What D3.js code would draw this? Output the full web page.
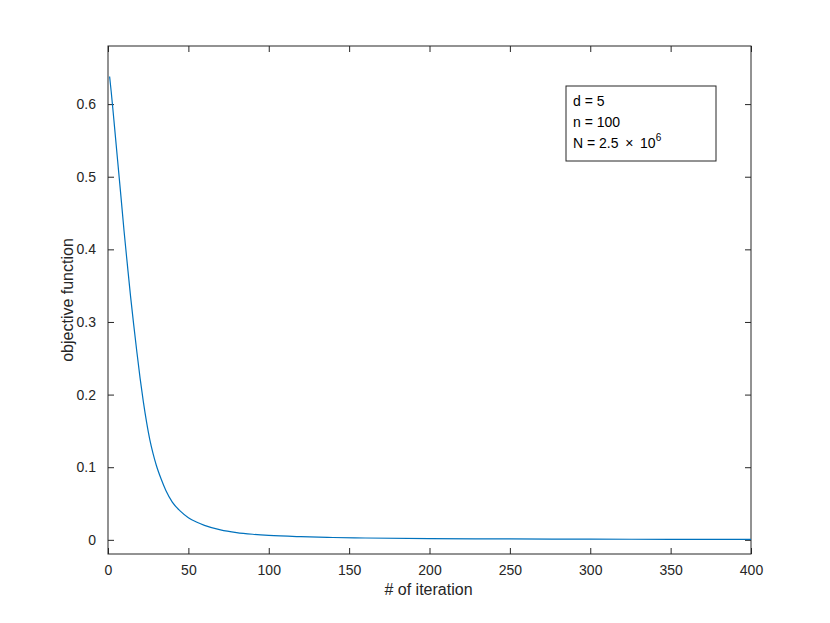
<!DOCTYPE html>
<html>
<head>
<meta charset="utf-8">
<title>objective function</title>
<script src="https://cdn.jsdelivr.net/npm/d3@7"></script>
<style>
  body { margin: 0; background: #fff; }
  svg { font-family: "Liberation Sans", Arial, sans-serif; }
  .tick text { font-size: 14px; fill: #262626; }
</style>
</head>
<body>
<script>
// iterations and objective values
const iters = [1, 2, 3, 4, 6, 8, 10, 12, 14, 16, 18, 20, 22, 24, 26, 28, 30, 33, 36, 40,
  45, 50, 55, 60, 70, 80, 90, 100, 120, 140, 160, 200, 250, 300, 350, 400];
const objective = [0.638, 0.617, 0.594, 0.570, 0.522, 0.474, 0.425, 0.380, 0.336, 0.296, 0.258,
  0.222, 0.190, 0.162, 0.138, 0.119, 0.103, 0.084, 0.068, 0.052,
  0.0395, 0.0305, 0.0245, 0.0200, 0.0137, 0.0100, 0.0077, 0.0061, 0.0043, 0.0032, 0.0025,
  0.0017, 0.0012, 0.0009, 0.0007, 0.0006];
const xTicks = [0, 50, 100, 150, 200, 250, 300, 350, 400];
const yTicks = [0, 0.1, 0.2, 0.3, 0.4, 0.5, 0.6];
const legendLines = ["d = 5", "n = 100"];

const W = 830, H = 623;
const mLeft = 108, mRight = 751, mTop = 46, mBottom = 554;
const axisCol = "#262626";

const svg = d3.select("body").append("svg")
  .attr("width", W).attr("height", H);

const x = d3.scaleLinear().domain([0, 400]).range([mLeft, mRight]);
const y = d3.scaleLinear().domain([-0.0195, 0.68]).range([mBottom, mTop]);

// axes, ticks pointing inward like matlab
function styleAxis(g) {
  g.select(".domain").remove();
  g.selectAll(".tick line").attr("stroke", axisCol);
}
svg.append("g").attr("transform", `translate(0,${mBottom})`)
  .call(d3.axisBottom(x).tickValues(xTicks).tickSize(-6).tickPadding(11).tickFormat(d3.format("d")))
  .call(styleAxis)
  .call(g => g.selectAll(".tick text").attr("dy", "0.71em"));
svg.append("g").attr("transform", `translate(0,${mTop})`)
  .call(d3.axisTop(x).tickValues(xTicks).tickSize(-6).tickFormat(""))
  .call(styleAxis);
svg.append("g").attr("transform", `translate(${mLeft},0)`)
  .call(d3.axisLeft(y).tickValues(yTicks).tickSize(-6).tickPadding(12).tickFormat(d => d === 0 ? "0" : d3.format(".1f")(d)))
  .call(styleAxis);
svg.append("g").attr("transform", `translate(${mRight},0)`)
  .call(d3.axisRight(y).tickValues(yTicks).tickSize(-6).tickFormat(""))
  .call(styleAxis);

svg.selectAll("g").attr("font-family", null).attr("font-size", null);

svg.append("rect")
  .attr("x", mLeft).attr("y", mTop)
  .attr("width", mRight - mLeft).attr("height", mBottom - mTop)
  .attr("fill", "none").attr("stroke", axisCol).attr("stroke-width", 1);

// curve
const line = d3.line().x((d, i) => x(iters[i])).y(d => y(d)).curve(d3.curveMonotoneX);
svg.append("path")
  .datum(objective)
  .attr("d", line)
  .attr("fill", "none")
  .attr("stroke", "#0072BD")
  .attr("stroke-width", 1.2);

// axis titles
svg.append("text")
  .attr("x", (mLeft + mRight) / 2 - 1).attr("y", 595)
  .attr("text-anchor", "middle").attr("font-size", 16).attr("fill", axisCol)
  .text("# of iteration");
svg.append("text")
  .attr("transform", `translate(73,${(mTop + mBottom) / 2}) rotate(-90)`)
  .attr("text-anchor", "middle").attr("font-size", 16).attr("fill", axisCol)
  .text("objective function");

// annotation box
const box = svg.append("g");
box.append("rect")
  .attr("x", 566).attr("y", 86).attr("width", 150).attr("height", 75)
  .attr("fill", "#fff").attr("stroke", axisCol).attr("stroke-width", 1);
legendLines.forEach((t, i) => {
  box.append("text").attr("x", 573).attr("y", 106 + i * 20.5)
    .attr("font-size", 14).attr("fill", "#000").text(t);
});
const nText = box.append("text").attr("x", 573).attr("y", 147.5)
  .attr("font-size", 14).attr("fill", "#000").attr("xml:space", "preserve");
nText.append("tspan").text("N = 2.5\u2009 \u00d7 \u200910");
nText.append("tspan").attr("dy", -7).attr("font-size", 10).text("6");
</script>
</body>
</html>
